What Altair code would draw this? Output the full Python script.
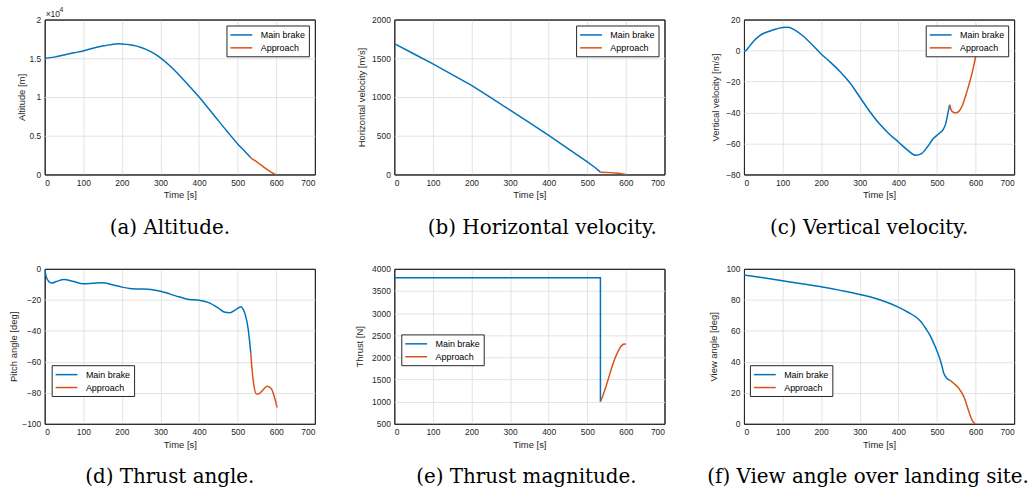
import altair as alt
import pandas as pd

BLUE = "#0072BD"
ORANGE = "#D95319"
PHASES = ["Main brake", "Approach"]

# (a) Altitude [m]
a_main_t = [0, 25, 50, 75, 100, 125, 150, 175, 190, 200, 225, 250, 275, 300, 325, 350, 375, 400, 425, 450, 475, 500, 520, 534]
a_main_v = [15000, 15150, 15430, 15700, 15950, 16300, 16580, 16790, 16860, 16850, 16700, 16400, 15850, 15050, 14000, 12750, 11400, 10000, 8480, 6950, 5420, 3950, 2900, 2150]
a_app_t = [534, 545, 555, 565, 575, 585, 593, 600]
a_app_v = [2150, 1780, 1420, 1040, 680, 350, 120, 0]

# (b) Horizontal velocity [m/s]
b_main_t = [0, 50, 100, 150, 200, 250, 300, 350, 400, 450, 500, 520, 534]
b_main_v = [1690, 1558, 1427, 1290, 1150, 993, 830, 668, 504, 335, 162, 90, 30]
b_app_t = [534, 560, 580, 600]
b_app_v = [30, 24, 16, 0]

# (c) Vertical velocity [m/s]
c_main_t = [0, 5, 15, 25, 40, 50, 75, 100, 115, 130, 150, 175, 200, 225, 250, 275, 300, 325, 350, 375, 400, 425, 445, 460, 475, 490, 505, 516, 523, 528, 533]
c_main_v = [-0.5, 0, 3, 6, 9.5, 11, 13.2, 14.8, 15, 13.5, 10, 4.2, -2.2, -7.8, -13.8, -21, -30, -39, -47, -53.5, -59, -64.5, -67.6, -66.5, -62.3, -57, -53.7, -51, -47, -41, -35]
c_app_t = [533, 539, 548, 557, 565, 574, 583, 591, 597, 602]
c_app_v = [-35, -39.3, -40.3, -39.3, -36, -29.5, -22, -14.6, -8, -1.8]

# (d) Pitch angle [deg]
d_main_t = [0, 4, 10, 18, 30, 50, 75, 100, 125, 150, 175, 200, 225, 250, 275, 300, 325, 350, 375, 400, 425, 450, 465, 480, 495, 509, 515, 520, 527, 531, 534]
d_main_v = [0, -5, -8, -9.2, -8.2, -6.9, -8.2, -9.6, -9.3, -9, -10.2, -11.8, -12.8, -13, -13.3, -14.4, -16.3, -18.2, -19.8, -20.2, -21.8, -25.3, -27.8, -28.3, -26.3, -24.5, -26.5, -29.9, -38.5, -47, -54.6]
d_app_t = [534, 537, 542, 548, 555, 565, 576, 587, 595, 602]
d_app_v = [-54.6, -64.3, -75, -80.7, -80.6, -78.3, -75.7, -77.2, -82.6, -89.5]

# (e) Thrust [N]
e_main_t = [0, 534, 534]
e_main_v = [3800, 3800, 1000]
e_app_t = [534, 540, 548, 556, 564, 572, 580, 587, 593, 600]
e_app_v = [1000, 1130, 1330, 1560, 1790, 1990, 2140, 2250, 2295, 2300]

# (f) View angle [deg]
f_main_t = [0, 50, 100, 150, 200, 250, 300, 350, 400, 425, 445, 460, 471, 480, 488, 501, 510, 518, 525, 534]
f_main_v = [96, 94.2, 92.3, 90.4, 88.4, 86.1, 83.5, 80.2, 75.3, 72, 69, 65.5, 61.5, 58, 54, 46.5, 40, 32.5, 29.5, 28]
f_app_t = [534, 544, 557, 570, 583, 591, 598, 601]
f_app_v = [28, 26, 22.8, 17.4, 7.7, 2.4, 0.2, 0]

X_TICKS = [0, 100, 200, 300, 400, 500, 600, 700]
EDGE = "datum.index == 0 || datum.index == 1"


def make_df(mt, mv, at, av):
    rows = []
    i = 0
    for t, v in zip(mt, mv):
        rows.append({"t": t, "v": v, "phase": PHASES[0], "i": i})
        i += 1
    for t, v in zip(at, av):
        rows.append({"t": t, "v": v, "phase": PHASES[1], "i": i})
        i += 1
    return pd.DataFrame(rows)


def panel(df, ydom, yvals, ytitle, tpad, caption, cap_dx, legend, interp,
          label_expr=None, fmt=None, exponent=False):
    grid_col = alt.condition(EDGE, alt.value("#262626"), alt.value("#E3E3E3"))
    xenc = alt.X("t:Q", scale=alt.Scale(domain=[0, 700], nice=False),
                 axis=alt.Axis(values=X_TICKS, title="Time [s]", format="d", gridColor=grid_col))
    yaxis_kw = dict(values=yvals, title=ytitle, titlePadding=tpad, gridColor=grid_col)
    if label_expr:
        yaxis_kw["labelExpr"] = label_expr
    if fmt:
        yaxis_kw["format"] = fmt
    yenc = alt.Y("v:Q", scale=alt.Scale(domain=ydom, nice=False), axis=alt.Axis(**yaxis_kw))
    line = alt.Chart(df).mark_line(strokeWidth=1.5, interpolate=interp, clip=True).encode(
        x=xenc, y=yenc,
        color=alt.Color("phase:N", scale=alt.Scale(domain=PHASES, range=[BLUE, ORANGE]), legend=legend),
        order=alt.Order("i:Q"),
    )
    layers = [line]
    if exponent:
        edf = pd.DataFrame({"t": [0], "v": [ydom[1]]})
        t1 = alt.Chart(edf).mark_text(align="left", baseline="alphabetic", dx=1, dy=-3,
                                      fontSize=8.5, font="Liberation Sans", color="#262626").encode(
            x=xenc, y=yenc, text=alt.value("×10"))
        t2 = alt.Chart(edf).mark_text(align="left", baseline="alphabetic", dx=15, dy=-8,
                                      fontSize=7, font="Liberation Sans", color="#262626").encode(
            x=xenc, y=yenc, text=alt.value("4"))
        layers += [t1, t2]
    return alt.layer(*layers).properties(
        width=272, height=156,
        title=alt.TitleParams(caption, orient="bottom", anchor="middle", frame="group",
                              font="DejaVu Serif", fontSize=20, fontWeight="normal",
                              color="black", offset=19, dx=cap_dx),
    )


leg_tr = alt.Legend(orient="top-right", offset=6, title=None)

pa = panel(make_df(a_main_t, a_main_v, a_app_t, a_app_v), [0, 20000], [0, 5000, 10000, 15000, 20000],
           "Altitude [m]", 3, "(a) Altitude.", -10, leg_tr, "monotone",
           label_expr="datum.value / 10000", exponent=True)
pb = panel(make_df(b_main_t, b_main_v, b_app_t, b_app_v), [0, 2000], [0, 500, 1000, 1500, 2000],
           "Horizontal velocity [m/s]", 5, "(b) Horizontal velocity.", 13, leg_tr, "linear", fmt="d")
pc = panel(make_df(c_main_t, c_main_v, c_app_t, c_app_v), [-80, 20], [-80, -60, -40, -20, 0, 20],
           "Vertical velocity [m/s]", 5.5, "(c) Vertical velocity.", -10, leg_tr, "monotone")
pd_ = panel(make_df(d_main_t, d_main_v, d_app_t, d_app_v), [-100, 0], [-100, -80, -60, -40, -20, 0],
            "Pitch angle [deg]", 3, "(d) Thrust angle.", -10,
            alt.Legend(orient="none", legendX=7, legendY=97, title=None), "monotone")
pe = panel(make_df(e_main_t, e_main_v, e_app_t, e_app_v), [500, 4000],
           [500, 1000, 1500, 2000, 2500, 3000, 3500, 4000],
           "Thrust [N]", 7, "(e) Thrust magnitude.", -3,
           alt.Legend(orient="none", legendX=7, legendY=66, title=None), "linear", fmt="d")
pf = panel(make_df(f_main_t, f_main_v, f_app_t, f_app_v), [0, 100], [0, 20, 40, 60, 80, 100],
           "View angle [deg]", 7, "(f) View angle over landing site.", -11,
           alt.Legend(orient="none", legendX=6, legendY=97, title=None), "monotone")

chart = alt.concat(pa, pb, pc, pd_, pe, pf, columns=3,
                   spacing=alt.RowColnumber(row=95, column=80), bounds="flush").resolve_scale(
    color="independent"
).properties(
    padding={"left": 8, "top": 3, "right": 2, "bottom": 2},
    background="white",
).configure_view(
    stroke="#262626", strokeWidth=1
).configure_axis(
    labelFont="Liberation Sans", labelFontSize=8.5, labelColor="#262626",
    titleFont="Liberation Sans", titleFontSize=9.5, titleFontWeight="normal", titleColor="#262626",
    gridWidth=1, domain=False, ticks=False, labelPadding=4,
).configure_axisX(titlePadding=3).configure_legend(
    strokeColor="#262626", fillColor="white", padding=3,
    labelFont="Liberation Sans", labelFontSize=9, labelColor="black",
    symbolType="M-2,0H2", symbolStrokeWidth=1.5, symbolSize=121, symbolOffset=5.5,
    rowPadding=1, labelOffset=13, cornerRadius=0,
)

chart.save("out.html", embed_options={"renderer": "svg", "actions": False})
